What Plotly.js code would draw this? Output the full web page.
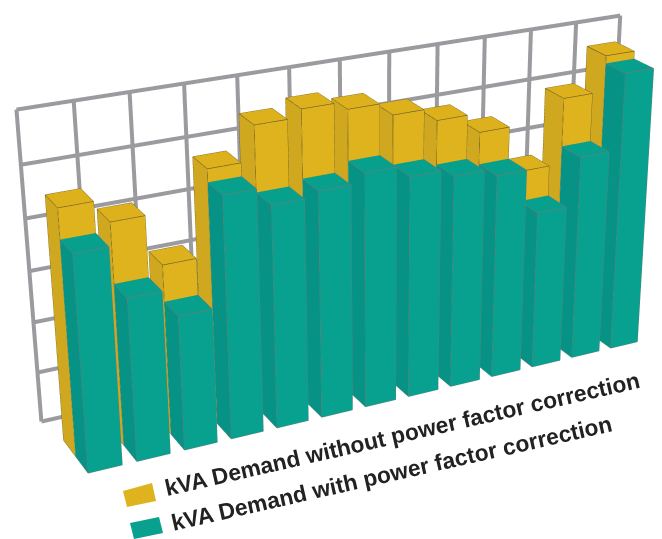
<!DOCTYPE html>
<html><head><meta charset="utf-8"><script src="https://cdn.plot.ly/plotly-3.0.1.min.js"></script>
<style>html,body{margin:0;padding:0;background:#fff;overflow:hidden;width:662px;height:539px}#c{position:absolute;left:-613px;top:-539px;width:1986px;height:1617px}</style></head><body><div id="c"></div>
<script>
const periods=[1,2,3,4,5,6,7,8,9,10,11,12,13];
const without=[94.5,86,66.5,99,112,115,112,107,102,94.5,76,102,116];
const withPF=[83,63,52.5,94,87,89,92.6,88,85,82,64,83,113];
const gridX=[0.5,1.633,2.767,3.9,5.033,6.167,7.3,8.433,9.567,10.7,11.833,12.967,14.1];
const gridZ=[0,20,40,60,80,100,120];
const legendLabels=['kVA Demand without power factor correction','kVA Demand with power factor correction'];
const goldCols={front:'#DEB31D',top:'#DCB11C',side:'#CFA81F',edge:'#6A5A2C'};
const tealCols={front:'#08A08E',top:'#07A08D',side:'#069386',edge:'#787878'};
const BW=0.70, WALL_Y=3.3;
function bars(vals,y0,y1,c){
  let X=[],Y=[],Z=[],I=[],J=[],K=[],F=[],ex=[],ey=[],ez=[];
  periods.forEach((p,n)=>{
    const b=X.length,h=vals[n],l=p-BW/2,r=p+BW/2;
    const pts=[[l,y0,0],[r,y0,0],[r,y1,0],[l,y1,0],[l,y0,h],[r,y0,h],[r,y1,h],[l,y1,h]];
    pts.forEach(q=>{X.push(q[0]);Y.push(q[1]);Z.push(q[2]);});
    [[0,1,5,c.front],[0,5,4,c.front],[4,5,6,c.top],[4,6,7,c.top],[0,3,7,c.side],[0,7,4,c.side],[1,2,6,c.front],[1,6,5,c.front],[2,3,7,c.front],[2,7,6,c.front],[0,1,2,c.front],[0,2,3,c.front]].forEach(t=>{I.push(b+t[0]);J.push(b+t[1]);K.push(b+t[2]);F.push(t[3]);});
    [[0,1],[1,2],[2,3],[3,0],[4,5],[5,6],[6,7],[7,4],[0,4],[1,5],[2,6],[3,7]].forEach(e=>{
      ex.push(pts[e[0]][0],pts[e[1]][0],null);ey.push(pts[e[0]][1],pts[e[1]][1],null);ez.push(pts[e[0]][2],pts[e[1]][2],null);});
  });
  return [{type:'mesh3d',x:X,y:Y,z:Z,i:I,j:J,k:K,facecolor:F,flatshading:true,lighting:{ambient:1,diffuse:0,specular:0,roughness:1,fresnel:0},hoverinfo:'skip'},
   {type:'scatter3d',mode:'lines',x:ex,y:ey,z:ez,line:{color:c.edge,width:1.3},hoverinfo:'skip'}];
}
let gx=[],gy=[],gz=[];
gridX.forEach(v=>{gx.push(v,v,null);gy.push(WALL_Y,WALL_Y,null);gz.push(gridZ[0],gridZ[gridZ.length-1],null);});
gridZ.forEach(v=>{gx.push(gridX[0],gridX[gridX.length-1],null);gy.push(WALL_Y,WALL_Y,null);gz.push(v,v,null);});
const grid={type:'scatter3d',mode:'lines',x:gx,y:gy,z:gz,line:{color:'#9B9B9F',width:8},hoverinfo:'skip'};
const data=[grid].concat(bars(without,1,2,goldCols),bars(withPF,0,1,tealCols));
const W=1986,H=1617,OX=613,OY=539;
const px=x=>(x+OX)/W, py=y=>1-(y+OY)/H;
function swatch(pts,col){return {type:'path',xref:'paper',yref:'paper',fillcolor:col,line:{width:0},path:'M'+pts.map(q=>px(q[0])+','+py(q[1])).join('L')+'Z'};}
const hide={visible:false,showgrid:false,zeroline:false,showticklabels:false,showspikes:false,title:{text:''}};
const layout={width:W,height:H,margin:{l:0,r:0,t:0,b:0},paper_bgcolor:'rgba(0,0,0,0)',showlegend:false,
 scene:{domain:{x:[0,1],y:[0,1]},aspectmode:'manual',aspectratio:{x:1.0147,y:0.1888,z:0.5084},
  xaxis:Object.assign({},hide,{range:[0.4,14.2]}),
  yaxis:Object.assign({},hide,{range:[-0.1,3.4]}),
  zaxis:Object.assign({},hide,{range:[-2,122]}),
  camera:{eye:{x:-1.217,y:-2.431,z:1.147},up:{x:0,y:0,z:1},center:{x:0.007,y:-0.0299,z:-0.0528}}},
 shapes:[swatch([[123,491],[152,483],[156,501],[127,507]],'#DEB31D'),swatch([[130,523],[159,517],[163,533],[134,539]],'#08A08E')],
 annotations:[
 {text:'<b>'+legendLabels[0]+'</b>',x:px(402),y:py(434),xref:'paper',yref:'paper',showarrow:false,textangle:-12.9,font:{family:'Liberation Sans',size:22.8,color:'#222'}},
 {text:'<b>'+legendLabels[1]+'</b>',x:px(392),y:py(472.5),xref:'paper',yref:'paper',showarrow:false,textangle:-12.8,font:{family:'Liberation Sans',size:22.8,color:'#222'}}]};
Plotly.newPlot('c',data,layout,{displayModeBar:false});
</script></body></html>
